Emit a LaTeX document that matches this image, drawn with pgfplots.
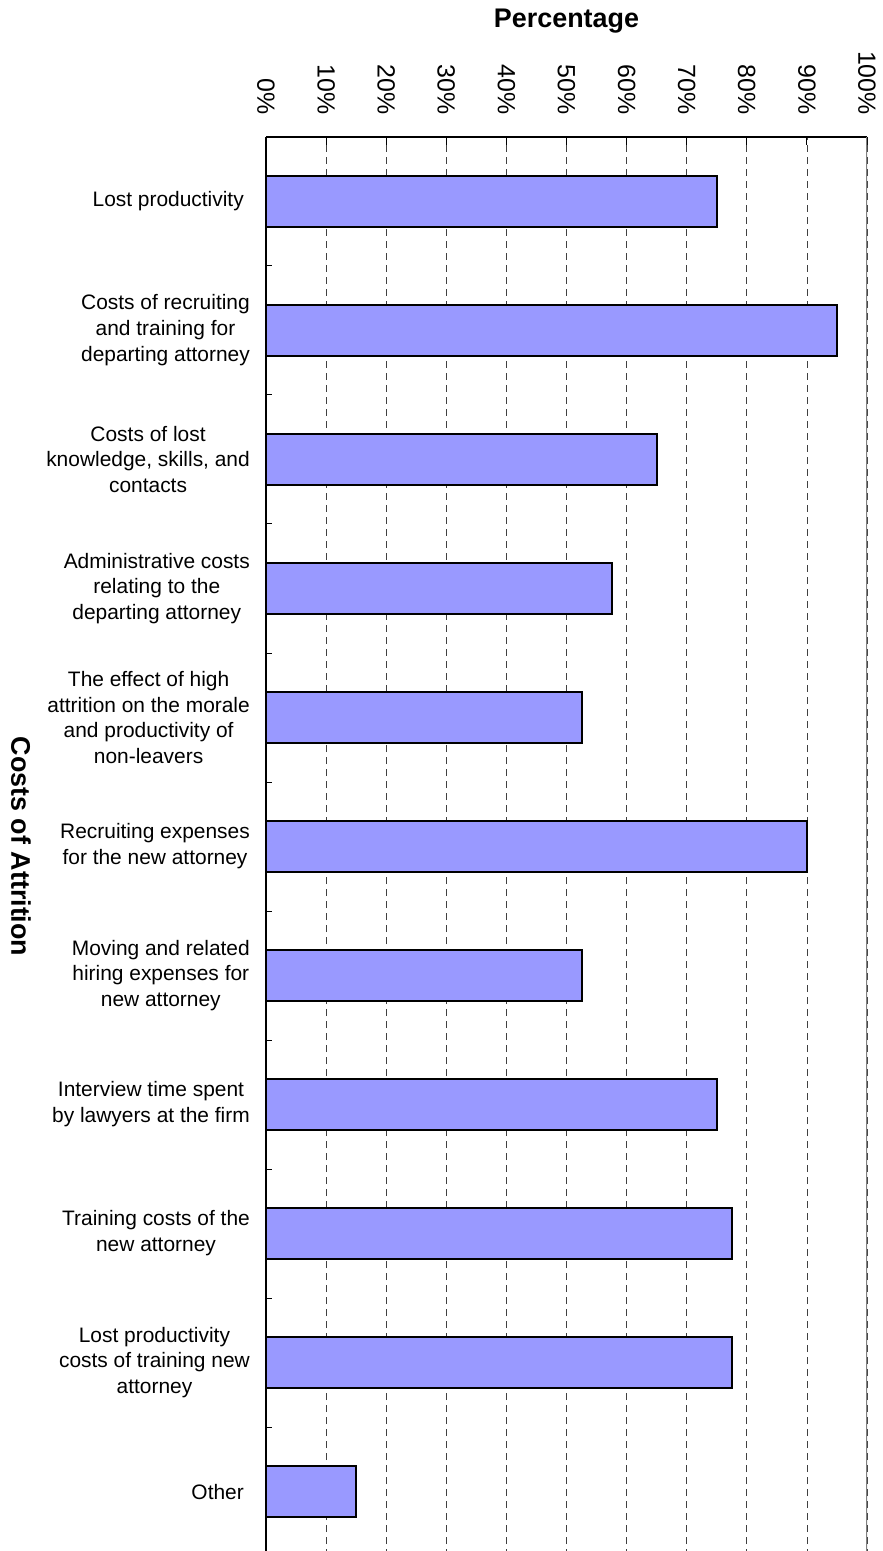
\documentclass[border=0pt]{standalone}
\usepackage{pgfplots}
\pgfplotsset{compat=1.18}
\usepackage{fontspec}
\setmainfont{Liberation Sans}
\definecolor{barblue}{HTML}{9999FF}
\definecolor{framegray}{HTML}{808080}

\begin{document}
\begin{tikzpicture}
\begin{axis}[
    scale only axis,
    width=601bp, height=1419bp,
    xmin=0, xmax=100,
    ymin=-0.5, ymax=10.5,
    axis x line=top, axis y line=left,
    axis line style={-, line width=1.2bp, black},
    xtick={0,10,...,100},
    xticklabels={0\%,10\%,20\%,30\%,40\%,50\%,60\%,70\%,80\%,90\%,100\%},
    xticklabel style={rotate=-90, anchor=east, inner sep=0pt,
        font=\fontsize{25}{30}\selectfont},
    xticklabel shift=22bp,
    xtick align=inside,
    major tick length=8bp,
    minor tick length=6bp,
    every tick/.style={black, line width=1bp},
    ytick={0,...,10},
    minor ytick={0.5,1.5,...,9.5},
    major y tick style={draw=none},
    ytick align=inside,
    yticklabels={
        Other\hspace*{6bp},
        {Lost productivity\\costs of training new\\attorney},
        {Training costs of the\\new attorney},
        {Interview time spent\\by lawyers at the firm},
        {Moving and related\\hiring expenses for\\new attorney},
        {Recruiting expenses\\for the new attorney},
        {The effect of high\\attrition on the morale\\and productivity of\\non-leavers},
        {Administrative costs\\relating to the\\departing attorney},
        {Costs of lost\\knowledge, skills, and\\contacts},
        {Costs of recruiting\\and training for\\departing attorney},
        Lost productivity\hspace*{6bp}},
    yticklabel style={align=center, anchor=east, inner sep=0pt,
        font=\fontsize{21}{26}\selectfont},
    yticklabel shift=16bp,
    xmajorgrids,
    grid style={black!75, line width=0.8bp, dash pattern=on 7bp off 5bp},
    xlabel={Percentage},
    xlabel style={font=\fontsize{27}{32}\selectfont\bfseries,
        at={(axis description cs:0.5,1.0775)}, anchor=base},
    ylabel={Costs of Attrition},
    ylabel style={font=\fontsize{27}{32}\selectfont\bfseries,
        at={(axis description cs:-0.4077,0.5)}, anchor=center, rotate=180},
]
\addplot[xbar, bar width=0.4, fill=barblue, draw=black, line width=2bp]
    coordinates {
    (75,10) (95,9) (65,8) (57.5,7) (52.5,6) (90,5)
    (52.5,4) (75,3) (77.5,2) (77.5,1) (15,0)
    };
\draw[framegray, line width=2bp] (axis cs:100,-0.5) -- (axis cs:100,10.5);
\coordinate (BL) at (axis cs:0,-0.461);
\coordinate (TR) at (axis cs:100,10.5);
\end{axis}
\pgfresetboundingbox
\path[use as bounding box] ([shift={(-266bp,0bp)}]BL) rectangle ([shift={(15bp,137bp)}]TR);
\end{tikzpicture}
\end{document}
